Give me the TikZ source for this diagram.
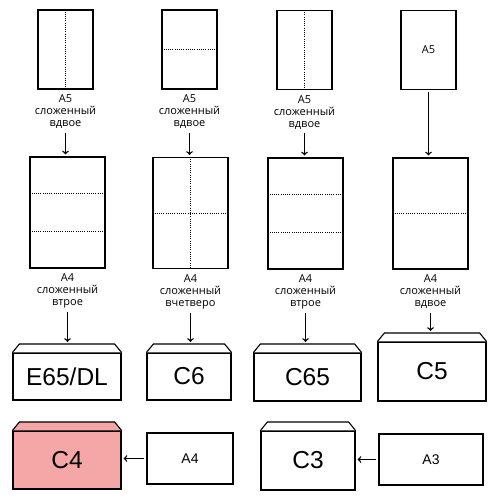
\documentclass[tikz,border=0pt]{standalone}
\usepackage{fontspec}
\setmainfont{Liberation Sans}
\newfontfamily\notefont{Open Sans}
\usetikzlibrary{arrows,positioning,calc}
\definecolor{envred}{RGB}{245,166,166}

\begin{document}
\begin{tikzpicture}[x=1bp,y=-1bp,>=to,line width=1.1bp,node distance=4bp]
  \tikzstyle{sheet}=[draw,rectangle,inner sep=0pt,minimum width=55bp,minimum height=79bp]
  \tikzstyle{big sheet}=[sheet,minimum width=75bp,minimum height=111bp]
  \tikzstyle{note}=[align=center,inner sep=1bp,font=\notefont\fontsize{11bp}{12bp}\selectfont]
  \tikzstyle{envelope}=[draw,rectangle,inner sep=0pt,font=\fontsize{24.5bp}{28bp}\selectfont]
  \tikzstyle{paper}=[draw,rectangle,inner sep=0pt,font=\fontsize{14bp}{16bp}\selectfont]
  \tikzstyle{fold}=[line width=1bp,dash pattern=on 1bp off 1.2bp]
  \tikzstyle{feed}=[->,line width=1.4bp,shorten <=2bp,shorten >=2bp]

  \useasboundingbox (0,0) rectangle (500,500);

  % A5 sheets
  \node[sheet] (sa) at (65.5,49.5) {};
  \node[sheet] (sb) at (189.5,49.5) {};
  \node[sheet] (sc) at (304.5,50) {};
  \node[sheet,font=\notefont\fontsize{11bp}{12bp}\selectfont] (sd) at (428.5,50) {A5};

  \node[note,below=of sa] (la) {A5\\сложенный\\вдвое};
  \node[note,below=of sb] (lb) {A5\\сложенный\\вдвое};
  \node[note,below=of sc] (lc) {A5\\сложенный\\вдвое};

  % A4 sheets
  \node[big sheet] (ma) at (67.5,212.5) {};
  \node[big sheet] (mb) at (190.5,213) {};
  \node[big sheet] (mc) at (305.5,213.5) {};
  \node[big sheet] (md) at (430.5,213.5) {};

  \node[note,below=of ma] (na) {A4\\сложенный\\втрое};
  \node[note,below=of mb] (nb) {A4\\сложенный\\вчетверо};
  \node[note,below=of mc] (nc) {A4\\сложенный\\втрое};
  \node[note,below=of md] (nd) {A4\\сложенный\\вдвое};

  % fold lines
  \draw[fold] (sa.north) -- (sa.south);
  \draw[fold] (sb.west) -- (sb.east);
  \draw[fold] (sc.north) -- (sc.south);
  \foreach \m in {ma,mc} {
    \draw[fold] ($(\m.north west)!1/3!(\m.south west)$) -- ($(\m.north east)!1/3!(\m.south east)$);
    \draw[fold] ($(\m.north west)!2/3!(\m.south west)$) -- ($(\m.north east)!2/3!(\m.south east)$);
  }
  \draw[fold] (mb.north) -- (mb.south) (mb.west) -- (mb.east);
  \draw[fold] (md.west) -- (md.east);

  % envelopes and sheets
  \node[envelope,minimum width=108bp,minimum height=47bp] (dl) at (67,376.5) {E65/DL};
  \node[envelope,minimum width=84bp,minimum height=47bp] (c6) at (189,376.5) {C6};
  \node[envelope,minimum width=107bp,minimum height=48bp] (c65) at (307.5,377) {C65};
  \node[envelope,minimum width=108bp,minimum height=59bp] (c5) at (432,371.5) {C5};
  \node[envelope,fill=envred,minimum width=108bp,minimum height=58bp] (c4) at (67,460) {C4};
  \node[envelope,minimum width=94bp,minimum height=59bp] (c3) at (308,460.5) {C3};
  \node[paper,minimum width=86bp,minimum height=51bp] (a4) at (190,458.5) {A4};
  \node[paper,minimum width=104bp,minimum height=51bp] (a3) at (431,459.5) {A3};

  % flaps
  \foreach \e/\c in {dl/white,c6/white,c65/white,c5/white,c4/envred,c3/white} {
    \draw[fill=\c] (\e.north west) -- ([xshift=7bp,yshift=8.5bp]\e.north west)
      -- ([xshift=-7bp,yshift=8.5bp]\e.north east) -- (\e.north east);
    \coordinate (\e-top) at ([yshift=8.5bp]\e.north);
  }

  % arrows
  \draw[feed] (la) -- (la |- ma.north);
  \draw[feed] (lb) -- (lb |- mb.north);
  \draw[feed] (lc) -- (lc |- mc.north);
  \draw[feed] (sd) -- (sd |- md.north);
  \draw[feed] (na) -- (na |- dl-top);
  \draw[feed] (nb) -- (nb |- c6-top);
  \draw[feed] (nc) -- (nc |- c65-top);
  \draw[feed] (nd) -- (nd |- c5-top);
  \draw[feed] (a4) -- (a4 -| c4.east);
  \draw[feed] (a3) -- (a3 -| c3.east);
\end{tikzpicture}
\end{document}
